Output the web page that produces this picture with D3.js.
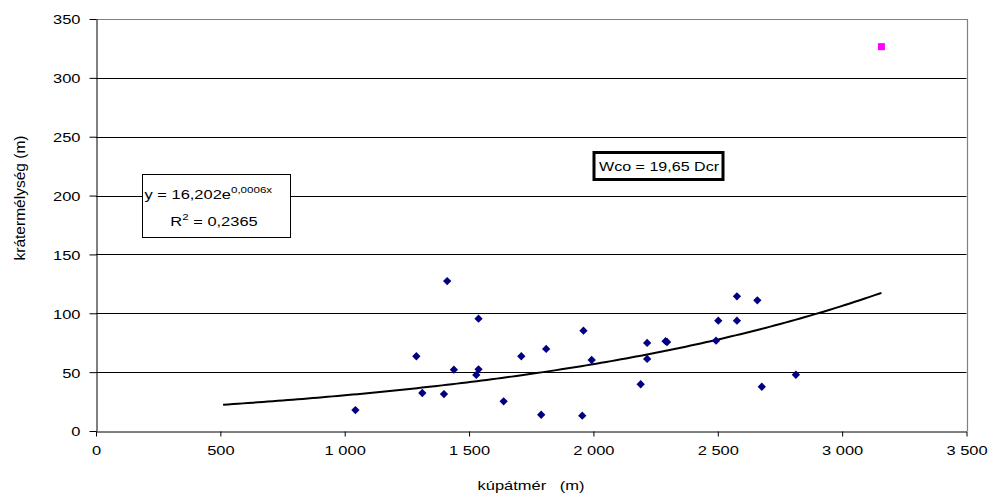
<!DOCTYPE html>
<html>
<head>
<meta charset="utf-8">
<script src="https://cdn.jsdelivr.net/npm/d3@7"></script>
<style>
  html, body { margin: 0; padding: 0; background: #fff; }
  svg { display: block; }
  text { font-family: "Liberation Sans", Arial, sans-serif; fill: #000; }
</style>
</head>
<body>
<svg id="chart" width="991" height="498"></svg>
<script>
// Cone diameter (m) vs. crater depth (m)
const coneDiameter = [1043, 1288, 1312, 1399, 1412, 1439, 1529, 1538, 1538, 1639,
                      1710, 1790, 1810, 1955, 1960, 1993, 2190, 2216, 2216, 2290,
                      2296, 2493, 2502, 2577, 2577, 2659, 2677, 2814];
const craterDepth  = [17.8, 63.5, 32.3, 31.4, 127.4, 52.1, 47.6, 95.4, 52.4, 25.2,
                      63.5, 13.8, 69.7, 13.0, 85.2, 60.3, 39.7, 74.8, 61.2, 76.3,
                      75.6, 76.7, 93.7, 114.4, 93.7, 111.0, 37.6, 47.8];
// highlighted outlier
const outlierDiameter = [3158];
const outlierDepth = [326.5];

// exponential trend y = a·e^(b·x)
const trendA = 16.202;
const trendB = 0.000627;
const trendFrom = 511;
const trendTo = 3158;

const xTicks = [0, 500, 1000, 1500, 2000, 2500, 3000, 3500];
const yTicks = [0, 50, 100, 150, 200, 250, 300, 350];

const xTitle = "kúpátmér   (m)";
const yTitle = "krátermélység (m)";
const eqLine1 = "y = 16,202e";
const eqSup1 = "0,0006x";
const eqLine2a = "R";
const eqSup2 = "2";
const eqLine2b = " = 0,2365";
const noteText = "Wco = 19,65 Dcr";

const SX = 1.22;          // horizontal glyph stretch
const FS = 13.5;

const svg = d3.select("#chart");
const plotL = 96, plotR = 966.5, plotT = 19, plotB = 431;

const x = d3.scaleLinear().domain([0, 3500]).range([plotL, plotR]);
const y = d3.scaleLinear().domain([0, 350]).range([plotB, plotT]);

const loc = d3.formatLocale({ decimal: ",", thousands: " ", grouping: [3], currency: ["", ""] });
const fmt = loc.format(",");

// gridlines
svg.append("g").selectAll("line")
  .data(yTicks.filter(v => v > 0 && v < 350))
  .join("line")
  .attr("x1", plotL).attr("x2", plotR)
  .attr("y1", d => Math.round(y(d)) + 0.5).attr("y2", d => Math.round(y(d)) + 0.5)
  .attr("stroke", "#000").attr("stroke-width", 1);

// plot frame (top and right)
svg.append("path")
  .attr("d", `M${plotL},${plotT + 0.5}H${Math.round(plotR) + 0.5}V${plotB}`)
  .attr("fill", "none").attr("stroke", "#808080").attr("stroke-width", 1.2);

// axes
const yAxis = svg.append("g")
  .attr("transform", `translate(${plotL + 0.5},0)`)
  .call(d3.axisLeft(y).tickValues(yTicks).tickSize(7).tickSizeOuter(0));
const xAxis = svg.append("g")
  .attr("transform", `translate(0,${plotB + 0.5})`)
  .call(d3.axisBottom(x).tickValues(xTicks).tickFormat(fmt).tickSize(5).tickSizeOuter(0));

[yAxis, xAxis].forEach(g => {
  g.select(".domain").attr("stroke", "#000");
  g.selectAll(".tick line").attr("stroke", "#000");
  g.selectAll(".tick text")
    .attr("font-size", FS)
    .attr("font-family", "Liberation Sans, Arial, sans-serif")
    .attr("transform", `scale(${SX},1)`);
});
yAxis.selectAll(".tick text").attr("x", -16 / SX).attr("dy", "0.36em");
xAxis.selectAll(".tick text").attr("y", 14).attr("dy", "0.71em");

// axis titles
svg.append("text")
  .attr("transform", `translate(531,490) scale(${SX},1)`)
  .attr("text-anchor", "middle")
  .style("white-space", "pre")
  .attr("font-size", FS)
  .text(xTitle);

svg.append("text")
  .attr("transform", `translate(25,198) rotate(-90) scale(1.15,1.1)`)
  .attr("text-anchor", "middle")
  .attr("font-size", FS)
  .text(yTitle);

// trend line
const trendX = d3.range(trendFrom, trendTo, 20).concat([trendTo]);
svg.append("path")
  .datum(trendX)
  .attr("d", d3.line().x(d => x(d)).y(d => y(trendA * Math.exp(trendB * d))))
  .attr("fill", "none").attr("stroke", "#000").attr("stroke-width", 2);

// data points (diamonds)
const diamond = d3.symbol().type(d3.symbolDiamond2).size(44);
svg.append("g").selectAll("path")
  .data(d3.zip(coneDiameter, craterDepth))
  .join("path")
  .attr("transform", d => `translate(${x(d[0])},${y(d[1])})`)
  .attr("d", diamond)
  .attr("fill", "#000080");

svg.append("g").selectAll("rect")
  .data(d3.zip(outlierDiameter, outlierDepth))
  .join("rect")
  .attr("x", d => x(d[0]) - 3.5).attr("y", d => y(d[1]) - 3.5)
  .attr("width", 7).attr("height", 7)
  .attr("fill", "#ff00ff");

// regression label box
const eq = svg.append("g");
eq.append("rect")
  .attr("x", 142.5).attr("y", 174.5).attr("width", 148).attr("height", 63)
  .attr("fill", "#fff").attr("stroke", "#000").attr("stroke-width", 1);
const t1 = eq.append("text")
  .attr("transform", `translate(144.5,199) scale(${SX},1)`)
  .attr("font-size", FS);
t1.append("tspan").text(eqLine1);
t1.append("tspan").attr("font-size", 9.5).attr("dy", -6).text(eqSup1);
const t2 = eq.append("text")
  .attr("transform", `translate(214,226) scale(${SX},1)`)
  .attr("text-anchor", "middle")
  .attr("font-size", FS);
t2.append("tspan").text(eqLine2a);
t2.append("tspan").attr("font-size", 9.5).attr("dy", -6).text(eqSup2);
t2.append("tspan").attr("dy", 6).text(eqLine2b);

// note box
const note = svg.append("g");
note.append("rect")
  .attr("x", 594).attr("y", 152.5).attr("width", 129).attr("height", 27)
  .attr("fill", "#fff").attr("stroke", "#000").attr("stroke-width", 3);
note.append("text")
  .attr("transform", `translate(599,171) scale(1.19,1)`)
  .attr("font-size", FS)
  .text(noteText);
</script>
</body>
</html>
